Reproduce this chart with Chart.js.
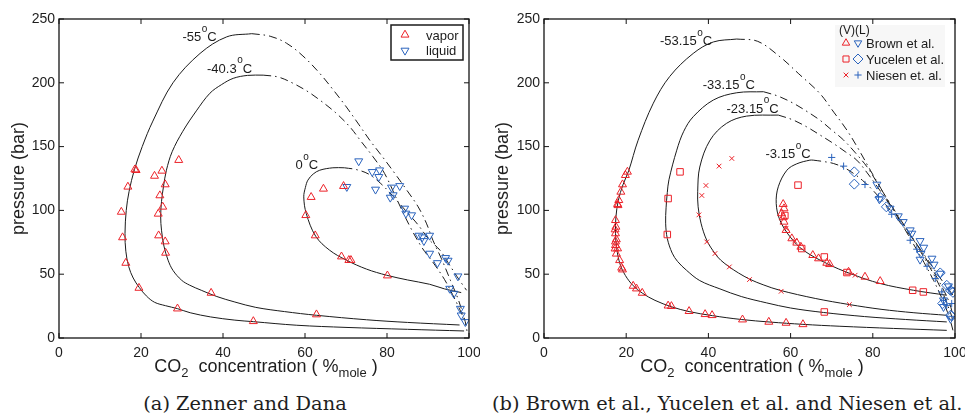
<!DOCTYPE html>
<html><head><meta charset="utf-8">
<script src="https://cdn.jsdelivr.net/npm/chart.js@4.4.1/dist/chart.umd.min.js"></script>
<style>
html,body{margin:0;padding:0;background:#fff;}
body{width:965px;height:416px;overflow:hidden;position:relative;}
canvas{position:absolute;top:0;}
#cA{left:0;} #cB{left:480px;}
.xtitle{position:absolute;top:356px;font-family:"Liberation Sans",Arial,sans-serif;font-size:18px;color:#1e1e1e;white-space:pre;transform:translateX(-50%);line-height:20px;}
.xtitle sub{font-size:13px;vertical-align:-5px;line-height:0;}
.cap{position:absolute;top:394px;font-family:"DejaVu Serif",serif;font-size:19.4px;color:#1e1e1e;white-space:nowrap;line-height:20px;}
</style></head><body>
<canvas id="cA" width="480" height="390"></canvas>
<canvas id="cB" width="485" height="390"></canvas>
<div class="xtitle" style="left:266px">CO<sub>2</sub>  concentration ( %<sub>mole</sub> )</div>
<div class="xtitle" style="left:752px">CO<sub>2</sub>  concentration ( %<sub>mole</sub> )</div>
<div class="cap" style="left:245px;transform:translateX(-50%)">(a) Zenner and Dana</div>
<div class="cap" style="left:492px">(b) Brown et al., Yucelen et al. and Niesen et al.</div>
<script>
// ---------- axis ticks ----------
const xTicks = [0, 20, 40, 60, 80, 100];
const yTicks = [0, 50, 100, 150, 200, 250];

// ---------- panel (a): Zenner and Dana ----------
const zdVapor = [[18.5,132],[18.8,131.5],[16.8,118.5],[15.2,98.8],[15.5,78.8],[16.3,58.8],[19.5,39.2],[28.9,23],[47.4,13.1],
  [23.3,127],[25.1,131],[29.2,139.4],[25.9,120.3],[24.6,111.7],[25.3,102.8],[24.2,97.3],[24.3,80.3],[25.9,75.6],[26,66.7],[37.1,35.3],[62.8,18.4],
  [60.2,96.2],[61.5,110.4],[64.5,116.9],[69.4,119],[62.5,80.3],[68.9,63.8],[70.7,61],[71.2,61],[80.1,48.9]];
const zdLiquid = [[70.2,118.5],[73.1,138.6],[76.4,130.2],[78.2,131.5],[78,126.3],[77.2,116.4],[81.1,118],[83.1,119.2],[80.8,110.1],[81.5,112],
  [84.3,101.5],[84.6,97.6],[86,96.3],[87.8,80.3],[88.6,79],[90.4,80.3],[89,76.1],[90.4,66.2],[92.3,58.8],[94.3,62.8],[94.9,60.7],
  [97.3,48.4],[95.3,38.7],[96.3,34.8],[97.9,23],[98.1,17.8],[99.1,12.6]];
// model envelopes (solid = vapor branch, dash-dot = liquid branch)
const zdM55Solid = [[98.8,5.5],[85,6.8],[70,8.3],[58,10],[47.4,12.8],[42.9,14],[37,16.5],[32,19.8],[28.9,23],[26,25.3],[23.3,28],[21.3,33],[19.6,39.5],[18.1,47],[17,56],[16.3,68],[16.1,82],[16.4,100],[17.1,115],[18.4,132],[20.3,150],[22.9,170],[27.8,200],[34.4,223],[40.9,236],[47,238.5]];
const zdM55Dash = [[47,238.5],[51.5,236.5],[55.5,231],[59.5,221],[63.6,207.4],[67,194],[70.1,181],[73.2,167],[75.8,155],[78.9,142],[81.9,129],[84.8,116],[87.6,102.8],[89.6,90],[91.2,76.6],[93.3,62],[95.5,45],[97.4,30],[98.7,17],[99.3,10],[99.5,5.5]];
const zdM40Solid = [[97.7,10.2],[85,12.2],[75,14.3],[62.8,17.8],[55,20.7],[48,24],[42.9,28.2],[38.5,32.5],[34.7,37.4],[31.8,41.5],[29.9,45.3],[27.8,53],[26.6,61],[25.6,72],[25,84.5],[24.8,95],[25,107],[25.5,119],[26.2,131.5],[27.6,146],[30.2,162],[33.5,178],[36.8,191.8],[39.6,198.5],[42.5,203.5],[46,205.8],[49.8,206]];
const zdM40Dash = [[49.8,206],[53.5,204.5],[57.1,199.6],[60.5,193.5],[63.6,186.5],[67.5,176.5],[70.9,165.6],[73.7,154],[76.6,142],[79.4,129],[82.5,108],[85.5,88],[88.5,71],[91.5,58],[94,46],[96,34],[97.8,22],[99,13],[99.3,10]];
const zd0Solid = [[98.1,35.6],[94,38.5],[90.4,42.1],[85,45.5],[79.9,49.2],[75,54],[70.1,61],[66,68.8],[62.6,79.8],[60.3,97.6],[59.7,110.6],[60.1,118],[60.7,123.7],[62,128.5],[63.6,131.5],[66.8,133.4],[69.6,133.4]];
const zd0Dash = [[69.6,133.4],[72.5,132],[75.5,128.5],[78.5,121],[81.5,111],[84.5,100],[87.5,89],[90.3,77],[92.9,68.9],[95,58.5],[97,48.5],[98.5,41.5],[99.4,37.4]];

// ---------- panel (b): Brown, Yucelen, Niesen ----------
const brownVapor = [[63,10.7],[58.9,11.8],[54.7,12.6],[48.3,14.4],[40.9,17.8],[39.2,18.6],[35.3,21],[31,24.9],[30.2,25.3],[23.9,35.3],[22.5,38.7],[21.7,40.8],
  [19.1,53.6],[18.9,55],[18.4,60.9],[17.9,70.1],[17.4,72.7],[17.6,77.2],[17.4,81.9],[17.5,87.1],[17.4,92.3],[17.9,104.9],[18.2,108],[18.7,114.5],[19.1,120.3],
  [19.8,127.6],[20.3,130.2],[17.3,70],[17.6,66],[17.4,75.5],[17.3,85],[18,104],
  [58.2,104.9],[58.4,101.5],[57.8,97.6],[58.2,94.5],[58.4,91],[58.9,84.5],[60.3,78],[61.5,74.6],[62.5,71.4],[65.4,64.9],[66.8,62.3],[68.8,58.8],
  [69.5,57.8],[74.1,51.8],[78.1,47.9],[81.8,44.5]];
const yucelenVapor = [[33.1,130.2],[30.2,109.3],[30,81.1],[61.8,119.8],[68.2,63.5],[62.7,70.1],[73.7,51.3],[89.7,37.4],[92.3,36.1],[68.2,20.4],[58.6,96]];
const niesenVapor = [[45.7,140.7],[42.6,134.7],[39.4,119.5],[38.4,111.7],[37.7,96.5],[39.6,75.3],[41.6,66.2],[45.1,55.7],[50,45.8],[57.7,36.6],[74.3,26.2],[75.7,49.2],[58.9,86],[61,76]];
const brownLiquid = [[81,120.3],[81.6,108.8],[84.2,101.5],[86.2,95.5],[87.4,91],[89.1,84.5],[89.5,81.9],[91.5,76.1],[92.4,70.9],[91.5,61.5],[94.4,62.3],
  [94.9,57.6],[96.4,50.5],[98.4,40.6],[99.1,37.4],[97.2,29.6],[97.2,24.4],[98.9,15.2],[91.7,66]];
const yucelenLiquid = [[75.5,130.2],[75.5,120.6],[81.8,110.1],[83.3,102.8],[96.4,51],[98,41.3],[98.9,37.4],[99.5,35.8],[98.9,17.8],[99.2,17.3],[97,27]];
const niesenLiquid = [[70,141.5],[72.9,134.7],[78.1,120.3],[81.4,110.6],[84.6,97],[89.1,76.6],[90.7,69.6],[93.2,56.2],[95.2,46.6],[96.8,36.1],[97.2,29.5],[98,25.6],[99.2,27]];
const bM53Solid = [[98,6],[85,7.5],[72,9.2],[63,10.7],[55,12.5],[48,14.5],[41,17.5],[35.3,20.7],[31,24.5],[27,29.5],[24,35],[21.7,41],[19.8,49],[18.5,58],[17.7,70],[17.4,82],[17.5,95],[18.1,108],[19.2,120],[20.6,131],[22.9,155],[26.6,184],[30.6,205],[36.3,223],[41.2,232],[46.9,234.3]];
const bM53Dash = [[46.9,234.3],[52,232.5],[57.4,220.4],[62,207],[67.1,191.7],[70.5,177],[73.7,162.9],[76.7,147],[79.4,131.5],[82,117],[84.5,103],[87.3,88],[90,73],[92.5,59],[94.8,45],[96.7,32],[98.2,20],[99.1,11],[99.5,6]];
const bM33Solid = [[98,12.6],[88,14.5],[78,16.8],[68,20],[60,23.5],[54.2,27.5],[48,32.5],[42.8,38.5],[37.9,45],[34.7,53],[32.5,60],[31.2,66.5],[30,78],[29.6,90],[29.7,102],[30,114],[30.4,124],[32.3,147.2],[34,162],[36.3,173.4],[41.2,186.5],[46.9,192.2],[53.4,193]];
const bM33Dash = [[53.4,193],[57,189.5],[60.7,183.9],[64,177.5],[67.1,170.8],[70,163],[72.9,155.1],[75.8,145],[78.6,134.1],[81,122],[83.5,109],[86.5,94],[89.5,79],[92.3,64],[94.8,50],[96.8,37],[98.3,25],[99.2,17],[99.5,12.6]];
const bM23Solid = [[98,17.8],[90,19.8],[82,22.5],[74.3,26.2],[66,31],[57.4,37.4],[53.5,41.5],[50.1,46],[47.3,51],[45.1,55.7],[43,61],[41.6,66.2],[39.6,76.6],[38.2,90],[37.5,102.8],[37.4,115],[37.9,134],[40.4,155],[44.4,168.2],[49.3,173.9],[57,174.7]];
const bM23Dash = [[57,174.7],[60.5,171],[63.9,165.5],[67.2,159],[70.4,152.5],[73.3,146],[76.1,139.4],[78.5,130],[81,119],[83.8,106],[86.8,92],[89.8,78],[92.6,64],[95,51],[97,39],[98.6,28],[99.5,17.8]];
const bM3Solid = [[98,33.5],[89.9,37.4],[81.8,42.7],[74.5,50.5],[68.8,58.4],[63.1,68.8],[59.9,79.2],[57.4,92.3],[56.5,105.4],[57,118.5],[59.1,131.5],[61.5,136.5],[64.7,139.4],[65.5,139.4]];
const bM3Dash = [[65.5,139.4],[68,138.3],[70.4,136.8],[73,133.5],[75.3,129],[77.5,123.5],[79.8,116.5],[82.2,108],[84.8,98],[87.5,87],[90.3,75],[93,63],[95.3,52],[97.3,43],[98.7,37],[99.5,33.5]];

// curve temperature labels (text, anchor in data units)
const labelsA = [{text:'-55', x:30.1, y:232.7}, {text:'-40.3', x:36.1, y:207.9}, {text:'0', x:57.7, y:132.1}];
const labelsB = [{text:'-53.15', x:28.2, y:229.6}, {text:'-33.15', x:38.6, y:194.9}, {text:'-23.15', x:44.4, y:176.5}, {text:'-3.15', x:53.9, y:140.7}];

// ---------- styling ----------
const FONT = '"Liberation Sans", Arial, sans-serif';
const RED = '#ec2229', BLUE = '#2a63bd', INK = '#1b1b1b';
const DASH = [8, 4, 1.5, 4];
const pts = a => a.map(p => ({x: p[0], y: p[1]}));
function curve(a, dashed) {
  return {data: pts(a), showLine: true, pointRadius: 0, borderColor: INK, borderWidth: 1,
          tension: 0.35, borderDash: dashed ? DASH : [], order: 2};
}
function marks(a, style, color, r, rot) {
  return {data: pts(a), showLine: false, pointStyle: style, pointRadius: r, pointRotation: rot || 0,
          pointBorderColor: color, borderColor: color, pointBorderWidth: 1,
          pointBackgroundColor: 'rgba(0,0,0,0)', backgroundColor: 'rgba(0,0,0,0)', order: 1};
}

function drawMarker(ctx, m, x, y) {
  ctx.strokeStyle = m.color; ctx.fillStyle = 'rgba(0,0,0,0)'; ctx.lineWidth = 1;
  Chart.helpers.drawPoint(ctx, {pointStyle: m.style, radius: m.r, rotation: m.rot || 0, borderWidth: 1}, x, y);
}

const framePlugin = {
  id: 'framePlugin',
  afterDatasetsDraw(chart, args, opts) {
    const {ctx, chartArea: a, scales: {x, y}} = chart;
    ctx.save();
    ctx.strokeStyle = '#151515'; ctx.lineWidth = 1.3;
    ctx.strokeRect(a.left, a.top, a.right - a.left, a.bottom - a.top);
    ctx.lineWidth = 1;
    ctx.beginPath();
    x.ticks.forEach(t => { const p = x.getPixelForValue(t.value); ctx.moveTo(p, a.bottom); ctx.lineTo(p, a.bottom - 5); ctx.moveTo(p, a.top); ctx.lineTo(p, a.top + 5); });
    y.ticks.forEach(t => { const p = y.getPixelForValue(t.value); ctx.moveTo(a.left, p); ctx.lineTo(a.left + 5, p); ctx.moveTo(a.right, p); ctx.lineTo(a.right - 5, p); });
    ctx.stroke();
    // temperature labels
    ctx.fillStyle = INK; ctx.textAlign = 'left'; ctx.textBaseline = 'alphabetic';
    (opts.labels || []).forEach(l => {
      const px = x.getPixelForValue(l.x), py = y.getPixelForValue(l.y);
      ctx.font = '13px ' + FONT; ctx.fillText(l.text, px, py);
      const w = ctx.measureText(l.text).width;
      ctx.font = '10px ' + FONT; ctx.fillText('o', px + w + 0.5, py - 9.5);
      ctx.font = '13px ' + FONT; ctx.fillText('C', px + w + 6, py);
    });
    // legend
    const lg = opts.legend;
    if (lg) {
      const bx = a.right - lg.right - lg.w, by = a.top + lg.top;
      if (lg.fill) { ctx.fillStyle = lg.fill; ctx.fillRect(bx, by, lg.w, lg.h); }
      if (lg.border) { ctx.strokeStyle = '#1b1b1b'; ctx.lineWidth = 1.5; ctx.strokeRect(bx, by, lg.w, lg.h); }
      ctx.fillStyle = INK; ctx.font = '13px ' + FONT;
      if (lg.header) { ctx.font = '12px ' + FONT; ctx.fillText(lg.header, bx + lg.hx, by + lg.hy); ctx.font = '13px ' + FONT; }
      lg.rows.forEach(r => {
        r.marks.forEach(m => drawMarker(ctx, m, bx + m.dx, by + r.dy));
        ctx.fillStyle = INK; ctx.fillText(r.text, bx + lg.tx, by + r.dy + 4.7);
      });
    }
    ctx.restore();
  }
};

function scales(yWidth, titlePad) {
  return {
    x: {type: 'linear', min: 0, max: 100,
        afterBuildTicks: s => { s.ticks = xTicks.map(v => ({value: v})); },
        ticks: {font: {size: 14, family: FONT}, color: '#1e1e1e', padding: 7, maxRotation: 0, autoSkip: false},
        grid: {display: false, drawTicks: false}, border: {display: false},
        afterFit: s => { s.height = 52; s.paddingLeft = 0; s.paddingRight = 0; }},
    y: {type: 'linear', min: 0, max: 250,
        afterBuildTicks: s => { s.ticks = yTicks.map(v => ({value: v})); },
        ticks: {font: {size: 14, family: FONT}, color: '#1e1e1e', padding: 4, autoSkip: false},
        grid: {display: false, drawTicks: false}, border: {display: false},
        title: {display: true, text: 'pressure (bar)', font: {size: 18, family: FONT}, color: '#1e1e1e', padding: {top: titlePad, bottom: 0}},
        afterFit: s => { s.width = yWidth; s.paddingTop = 0; s.paddingBottom = 0; }}
  };
}

function build(id, datasets, yWidth, titlePad, padRight, pluginOpts) {
  return new Chart(document.getElementById(id), {
    type: 'scatter',
    data: {datasets},
    options: {
      responsive: false, animation: false, devicePixelRatio: 1, events: [],
      layout: {padding: {left: 0, top: 19, right: padRight, bottom: 0}},
      plugins: {legend: {display: false}, tooltip: {enabled: false}, framePlugin: pluginOpts},
      scales: scales(yWidth, titlePad)
    },
    plugins: [framePlugin]
  });
}

// panel (a)
build('cA', [
  marks(zdVapor, 'triangle', RED, 4.6, 0),
  marks(zdLiquid, 'triangle', BLUE, 4.6, 180),
  curve(zdM55Solid, false), curve(zdM55Dash, true),
  curve(zdM40Solid, false), curve(zdM40Dash, true),
  curve(zd0Solid, false), curve(zd0Dash, true)
], 59, 8, 11, {
  labels: labelsA,
  legend: {w: 72, h: 35, right: 6, top: 6, border: true, tx: 35,
    rows: [
      {dy: 9.8, text: 'vapor', marks: [{dx: 14, style: 'triangle', color: RED, r: 4.6, rot: 0}]},
      {dy: 25.5, text: 'liquid', marks: [{dx: 14, style: 'triangle', color: BLUE, r: 4.6, rot: 180}]}
    ]}
});

// panel (b)
build('cB', [
  marks(brownVapor, 'triangle', RED, 4.6, 0),
  marks(yucelenVapor, 'rect', RED, 4.6, 0),
  marks(niesenVapor, 'crossRot', RED, 3.3, 0),
  marks(brownLiquid, 'triangle', BLUE, 4.6, 180),
  marks(yucelenLiquid, 'rectRot', BLUE, 5, 0),
  marks(niesenLiquid, 'cross', BLUE, 3.6, 0),
  curve(bM53Solid, false), curve(bM53Dash, true),
  curve(bM33Solid, false), curve(bM33Dash, true),
  curve(bM23Solid, false), curve(bM23Dash, true),
  curve(bM3Solid, false), curve(bM3Dash, true)
], 64, 12, 10, {
  labels: labelsB,
  legend: {w: 110, h: 62, right: 10, top: 6, border: false, fill: '#f7f7f7', tx: 31,
    header: '(V)(L)', hx: 4, hy: 8.5,
    rows: [
      {dy: 18, text: 'Brown et al.', marks: [{dx: 11, style: 'triangle', color: RED, r: 4.3, rot: 0}, {dx: 23, style: 'triangle', color: BLUE, r: 4.3, rot: 180}]},
      {dy: 34, text: 'Yucelen et al.', marks: [{dx: 11, style: 'rect', color: RED, r: 4.3}, {dx: 23, style: 'rectRot', color: BLUE, r: 5}]},
      {dy: 50, text: 'Niesen et. al.', marks: [{dx: 11, style: 'crossRot', color: RED, r: 3.3}, {dx: 23, style: 'cross', color: BLUE, r: 3.6}]}
    ]}
});
</script>
</body></html>
